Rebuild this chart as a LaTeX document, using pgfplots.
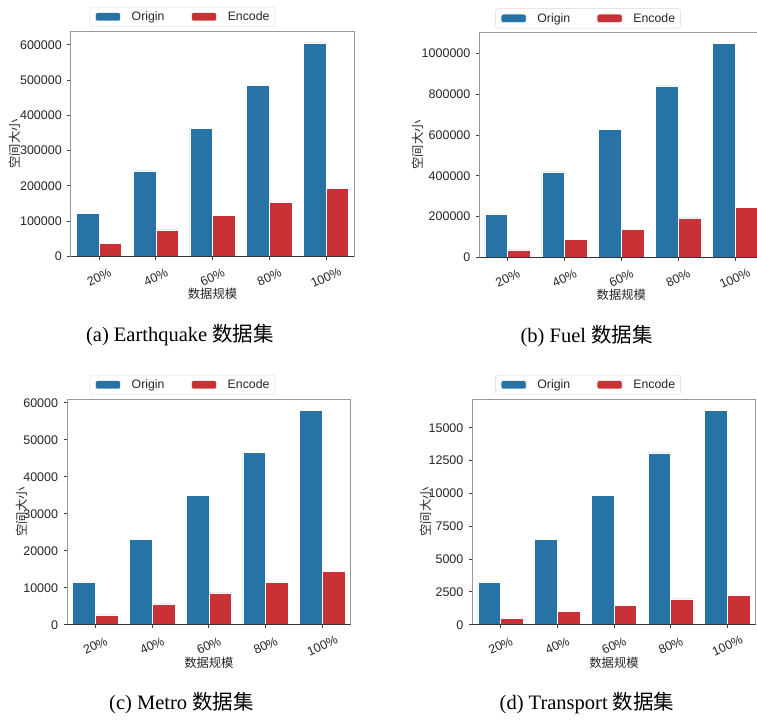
\documentclass[border=0pt]{standalone}
\usepackage{pgfplots}
\pgfplotsset{compat=1.18}
\usepackage{fontspec}
\setmainfont{Liberation Serif}
\newfontfamily\sans{Liberation Sans}
\newfontfamily\cjk{Noto Sans CJK SC}
\definecolor{cOrigin}{RGB}{40,115,165}
\definecolor{cEncode}{RGB}{200,50,55}
\pgfplotsset{
  panel/.style={
    scale only axis,
    xmin=-0.5, xmax=4.5, ymin=0,
    ybar, bar width=0.4,
    xtick={0,1,2,3,4}, xticklabels={20\%,40\%,60\%,80\%,100\%},
    axis line style={draw=black!40, line width=0.8pt},
    tick align=outside, major tick length=3.5pt,
    tick style={color=black!75, line width=0.8pt},
    xtick pos=lower, ytick pos=left,
    /pgf/number format/assume math mode=true,
    ticklabel style={font=\sans\fontsize{12.5}{14}\selectfont, text=black!85},
    xticklabel style={anchor=center, inner sep=1pt, yshift=-17.5pt, rotate=25},
    scaled y ticks=false,
    yticklabel style={/pgf/number format/fixed, /pgf/number format/1000 sep={}, inner xsep=5.2pt},
    label style={font=\cjk\fontsize{12.3}{14}\selectfont, text=black!85, inner sep=1pt},
    xlabel={数据规模},
    ylabel={空间大小},
    xlabel style={at={(axis description cs:0.5,-0.167)}, anchor=center},
    legend columns=2,
    legend image code/.code={\fill[##1] (0pt,-4.2pt) rectangle (25pt,4.2pt);},
    legend style={draw=black!15, rounded corners=2pt, fill=white,
      font=\sans\fontsize{12.3}{14}\selectfont, text=black!85,
      inner xsep=5.3pt, inner ysep=4.5pt,
      nodes={inner sep=0pt},
      /tikz/every odd column/.append style={column sep=11pt},
      /tikz/every even column/.append style={column sep=26.7pt},
      anchor=south},
  },
  borig/.style={fill=cOrigin, draw=white, line width=0.5pt, bar shift=-0.2},
  benc/.style={fill=cEncode, draw=white, line width=0.5pt, bar shift=0.2},
}
\begin{document}
\begin{tikzpicture}
\useasboundingbox (0pt,0pt) rectangle (757pt,720pt);
\clip (0pt,0pt) rectangle (757pt,720pt);

% (a) Earthquake
\begin{axis}[panel, at={(70.7pt,463.7pt)}, anchor=south west, width=283.6pt, height=224.6pt,
  ymax=637000, ytick={0,100000,...,600000},
  ylabel style={at={(axis description cs:-0.1964,0.5)}, anchor=center},
  legend style={at={(axis description cs:0.3937,1)}, yshift=5pt}]
\addplot[borig] coordinates {(0,121000) (1,242000) (2,363000) (3,484000) (4,605000)};
\addplot[benc] coordinates {(0,37000) (1,75000) (2,115000) (3,153000) (4,192000)};
\legend{Origin,Encode}
\draw[black!80, line width=0.8pt] (rel axis cs:0,0) -- (rel axis cs:1,0);
\end{axis}

% (b) Fuel
\begin{axis}[panel, at={(479.3pt,462.7pt)}, anchor=south west, width=284pt, height=225pt,
  ymax=1105000, ytick={0,200000,...,1000000},
  ylabel style={at={(axis description cs:-0.2165,0.5)}, anchor=center},
  legend style={at={(axis description cs:0.3827,1)}, yshift=4pt}]
\addplot[borig] coordinates {(0,210000) (1,420000) (2,630000) (3,842000) (4,1051000)};
\addplot[benc] coordinates {(0,37000) (1,87000) (2,138000) (3,194000) (4,244000)};
\legend{Origin,Encode}
\draw[black!80, line width=0.8pt] (rel axis cs:0,0) -- (rel axis cs:1,0);
\end{axis}

% (c) Metro
\begin{axis}[panel, at={(67pt,95.3pt)}, anchor=south west, width=283.7pt, height=225.7pt,
  ymax=61000, ytick={0,10000,...,60000},
  ylabel style={at={(axis description cs:-0.1586,0.5)}, anchor=center},
  legend style={at={(axis description cs:0.4066,1)}, yshift=4.3pt}]
\addplot[borig] coordinates {(0,11500) (1,23000) (2,35000) (3,46500) (4,58000)};
\addplot[benc] coordinates {(0,2650) (1,5600) (2,8600) (3,11500) (4,14500)};
\legend{Origin,Encode}
\draw[black!80, line width=0.8pt] (rel axis cs:0,0) -- (rel axis cs:1,0);
\end{axis}

% (d) Transport
\begin{axis}[panel, at={(472.3pt,95.3pt)}, anchor=south west, width=283.4pt, height=225.7pt,
  ymax=17200, ytick={0,2500,...,15000},
  ylabel style={at={(axis description cs:-0.1651,0.5)}, anchor=center},
  legend style={at={(axis description cs:0.4083,1)}, yshift=4.3pt}]
\addplot[borig] coordinates {(0,3250) (1,6500) (2,9830) (3,13100) (4,16330)};
\addplot[benc] coordinates {(0,500) (1,1000) (2,1480) (3,1960) (4,2250)};
\legend{Origin,Encode}
\draw[black!80, line width=0.8pt] (rel axis cs:0,0) -- (rel axis cs:1,0);
\end{axis}

% captions
\node[font=\fontsize{20.5}{24}\selectfont] at (180pt,384.5pt) {(a) Earthquake {\cjk 数据集}};
\node[font=\fontsize{20.5}{24}\selectfont] at (586.7pt,384pt) {(b) Fuel {\cjk 数据集}};
\node[font=\fontsize{20.5}{24}\selectfont] at (181.5pt,16.7pt) {(c) Metro {\cjk 数据集}};
\node[font=\fontsize{20.5}{24}\selectfont] at (587pt,17pt) {(d) Transport {\cjk 数据集}};
\end{tikzpicture}
\end{document}
